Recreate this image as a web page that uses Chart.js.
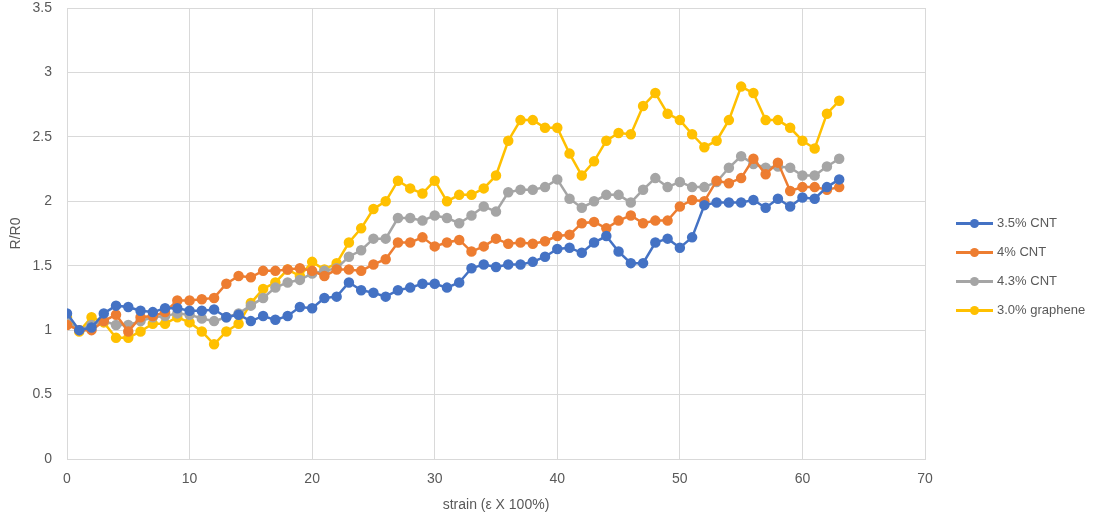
<!DOCTYPE html>
<html>
<head>
<meta charset="utf-8">
<script src="https://cdn.jsdelivr.net/npm/chart.js@4.4.1/dist/chart.umd.min.js"></script>
<style>
  body { margin: 0; background: #fff; }
  #wrap { position: relative; width: 1099px; height: 517px; font-family: "Liberation Sans", Arial, sans-serif; }
  #legend { position: absolute; left: 956px; top: 208px; }
  .item { height: 29px; display: flex; align-items: center; font-size: 13px; color: #595959; }
  .swatch { position: relative; width: 37px; height: 10px; margin-right: 4px; }
  .swatch .ln { position: absolute; left: 0; right: 0; top: 4px; height: 3px; }
  .swatch .dot { position: absolute; left: 14px; top: 1px; width: 9px; height: 9px; border-radius: 50%; }
</style>
</head>
<body>
<div id="wrap">
  <canvas id="chart" width="1099" height="517"></canvas>
  <div id="legend"></div>
</div>
<script>
const SERIES_NAMES = ['3.5% CNT', '4% CNT', '4.3% CNT', '3.0% graphene'];
const SERIES_COLORS = ['#4472C4', '#ED7D31', '#A5A5A5', '#FFC000'];

// strain values 0..63
const strain = Array.from({ length: 64 }, (_, i) => i);

const cnt35 = [
    1.13, 1.00, 1.02, 1.13, 1.19, 1.18, 1.15, 1.14, 1.17, 1.17,
    1.15, 1.15, 1.16, 1.10, 1.12, 1.07, 1.11, 1.08, 1.11, 1.18,
    1.17, 1.25, 1.26, 1.37, 1.31, 1.29, 1.26, 1.31, 1.33, 1.36,
    1.36, 1.33, 1.37, 1.48, 1.51, 1.49, 1.51, 1.51, 1.53, 1.57,
    1.63, 1.64, 1.60, 1.68, 1.73, 1.61, 1.52, 1.52, 1.68, 1.71,
    1.64, 1.72, 1.97, 1.99, 1.99, 1.99, 2.01, 1.95, 2.02, 1.96,
    2.03, 2.02, 2.11, 2.17
];
const cnt4 = [
    1.04, 1.00, 1.00, 1.07, 1.12, 0.99, 1.10, 1.11, 1.14, 1.23,
    1.23, 1.24, 1.25, 1.36, 1.42, 1.41, 1.46, 1.46, 1.47, 1.48,
    1.46, 1.42, 1.47, 1.47, 1.46, 1.51, 1.55, 1.68, 1.68, 1.72,
    1.65, 1.68, 1.70, 1.61, 1.65, 1.71, 1.67, 1.68, 1.67, 1.69,
    1.73, 1.74, 1.83, 1.84, 1.79, 1.85, 1.89, 1.83, 1.85, 1.85,
    1.96, 2.01, 2.00, 2.16, 2.14, 2.18, 2.33, 2.21, 2.30, 2.08,
    2.11, 2.11, 2.09, 2.11
];
const cnt43 = [
    1.07, 1.00, 1.04, 1.07, 1.04, 1.04, 1.07, 1.10, 1.11, 1.13,
    1.12, 1.09, 1.07, 1.10, 1.13, 1.19, 1.25, 1.33, 1.37, 1.39,
    1.44, 1.46, 1.48, 1.57, 1.62, 1.71, 1.71, 1.87, 1.87, 1.85,
    1.89, 1.87, 1.83, 1.89, 1.96, 1.92, 2.07, 2.09, 2.09, 2.11,
    2.17, 2.02, 1.95, 2.00, 2.05, 2.05, 1.99, 2.09, 2.18, 2.11,
    2.15, 2.11, 2.11, 2.15, 2.26, 2.35, 2.29, 2.26, 2.27, 2.26,
    2.20, 2.20, 2.27, 2.33
];
const graphene30 = [
    1.10, 0.99, 1.10, 1.06, 0.94, 0.94, 0.99, 1.05, 1.05, 1.10,
    1.06, 0.99, 0.89, 0.99, 1.05, 1.21, 1.32, 1.37, 1.47, 1.42,
    1.53, 1.47, 1.52, 1.68, 1.79, 1.94, 2.00, 2.16, 2.10, 2.06,
    2.16, 2.00, 2.05, 2.05, 2.10, 2.20, 2.47, 2.63, 2.63, 2.57,
    2.57, 2.37, 2.20, 2.31, 2.47, 2.53, 2.52, 2.74, 2.84, 2.68,
    2.63, 2.52, 2.42, 2.47, 2.63, 2.89, 2.84, 2.63, 2.63, 2.57,
    2.47, 2.41, 2.68, 2.78
];

const X_TICKS_STEP = 10;
const Y_TICKS_STEP = 0.5;

const TEXT_COLOR = '#595959';
const GRID_COLOR = '#d9d9d9';
const FONT = { family: '"Liberation Sans", Arial, sans-serif', size: 14 };

const toPoints = (values) => values.map((v, i) => ({ x: strain[i], y: v }));

const datasets = [cnt35, cnt4, cnt43, graphene30].map((values, k) => ({
    label: SERIES_NAMES[k],
    data: toPoints(values),
    borderColor: SERIES_COLORS[k],
    backgroundColor: SERIES_COLORS[k],
    borderWidth: 2.5,
    pointRadius: 4,
    pointHoverRadius: 4,
    tension: 0
}));

new Chart(document.getElementById('chart'), {
    type: 'line',
    data: { datasets: datasets },
    options: {
        responsive: false,
        animation: false,
        layout: { padding: { left: 0, right: 174, top: 1, bottom: 0 } },
        plugins: {
            legend: { display: false },
            tooltip: { enabled: false }
        },
        scales: {
            x: {
                type: 'linear',
                min: 0,
                max: 70,
                afterFit: (scale) => { scale.height = 58; },
                ticks: { stepSize: X_TICKS_STEP, color: TEXT_COLOR, font: FONT, padding: 12 },
                grid: { color: GRID_COLOR, drawTicks: false },
                border: { color: GRID_COLOR },
                title: { display: true, text: 'strain (ε X 100%)', color: TEXT_COLOR, font: FONT, padding: { top: 0, bottom: 3 } }
            },
            y: {
                min: 0,
                max: 3.5,
                afterFit: (scale) => {
                    scale.width = 67;
                    scale.paddingTop = 8;
                    scale.paddingBottom = 8;
                },
                ticks: {
                    stepSize: Y_TICKS_STEP,
                    color: TEXT_COLOR,
                    font: FONT,
                    padding: 15,
                    callback: (v) => String(Math.round(v * 10) / 10)
                },
                grid: { color: GRID_COLOR, drawTicks: false },
                border: { display: false },
                title: { display: true, text: 'R/R0', color: TEXT_COLOR, font: FONT, padding: { top: 8, bottom: 0 } }
            }
        }
    }
});

// legend with line + marker samples
const legend = document.getElementById('legend');
SERIES_NAMES.forEach((name, k) => {
    const item = document.createElement('div');
    item.className = 'item';
    item.innerHTML = `
      <span class="swatch">
        <span class="ln" style="background:${SERIES_COLORS[k]}"></span>
        <span class="dot" style="background:${SERIES_COLORS[k]}"></span>
      </span>
      <span>${name}</span>
    `;
    legend.appendChild(item);
});
</script>
</body>
</html>
